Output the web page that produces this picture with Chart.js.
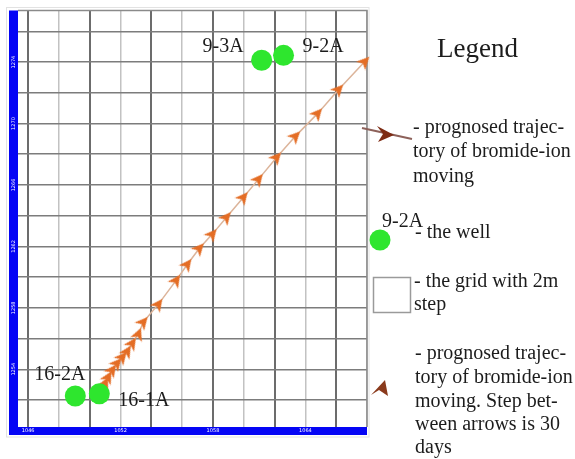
<!DOCTYPE html>
<html>
<head>
<meta charset="utf-8">
<script src="https://cdn.jsdelivr.net/npm/chart.js@4.4.1/dist/chart.umd.min.js"></script>
<style>
  html, body { margin: 0; padding: 0; background: #ffffff; }
  #wrap { position: relative; width: 575px; height: 459px; }
  #c { position: absolute; left: 0; top: 0; }
  #legend { position: absolute; left: 0; top: 0; pointer-events: none; }
  #legend text { font-family: "Liberation Serif", "Times New Roman", serif; fill: #1c1c1c; }
</style>
</head>
<body>
<div id="wrap">
  <canvas id="c" width="575" height="459"></canvas>
  <svg id="legend" width="575" height="459" xmlns="http://www.w3.org/2000/svg">
    <text x="437" y="57" font-size="27">Legend</text>

    <line x1="362" y1="128" x2="412" y2="139" stroke="#8d615a" stroke-width="2"/>
    <polygon points="394,135 377,126 383,134 378,142" fill="#7e2c14"/>
    <text x="413" y="133" font-size="20">- prognosed trajec-</text>
    <text x="413" y="157" font-size="20">tory of bromide-ion</text>
    <text x="413" y="182" font-size="20">moving</text>

    <text x="382" y="227" font-size="20">9-2A</text>
    <circle cx="380" cy="240" r="10.5" fill="#2ee62e"/>
    <text x="415" y="238" font-size="20">- the well</text>

    <rect x="373.5" y="277.5" width="37" height="35" fill="#ffffff" stroke="#9a9a9a" stroke-width="1.5"/>
    <text x="414" y="287" font-size="20">- the grid with 2m</text>
    <text x="414" y="310" font-size="20">step</text>

    <polygon points="385,380 371,395 379,390 388,396" fill="#8a3a1c"/>
    <text x="415" y="359" font-size="20">- prognosed trajec-</text>
    <text x="415" y="383" font-size="20">tory of bromide-ion</text>
    <text x="415" y="407" font-size="20">moving. Step bet-</text>
    <text x="415" y="430" font-size="20">ween arrows is 30</text>
    <text x="415" y="453" font-size="20">days</text>
  </svg>
</div>
<script>
// ---- data (grid units, 1 unit = one 2 m grid cell) ----
const wellNames = ['16-2A', '16-1A', '9-3A', '9-2A'];
const wellX = [1.53, 2.31, 7.58, 8.29];
const wellY = [0.13, 0.20, 11.06, 11.22];

// prognosed trajectory of bromide-ion, one arrow every 30 days
const trajX = [2.50, 2.60, 2.73, 2.89, 3.06, 3.22, 3.38, 3.58, 3.74, 4.23, 4.81, 5.17, 5.56, 5.98, 6.44, 6.99, 7.48, 8.07, 8.68, 9.40, 10.08, 10.93];
const trajY = [0.55, 0.75, 0.98, 1.20, 1.40, 1.59, 1.85, 2.15, 2.54, 3.12, 3.90, 4.42, 4.94, 5.40, 5.95, 6.60, 7.19, 7.90, 8.59, 9.33, 10.11, 11.02];

// axis tick labels (tiny, barely legible in the source)
const xTickValues = [0, 3, 6, 9];
const xTickLabels = ['1046', '1052', '1058', '1064'];
const yTickValues = [11, 9, 7, 5, 3, 1];
const yTickLabels = ['1274', '1270', '1266', '1262', '1258', '1254'];

// ---- styling / layout (not data) ----
const wellLabelLayout = [
  { align: 'left',  dx: -41, dy: -16 },
  { align: 'left',  dx: 19,  dy: 12 },
  { align: 'right', dx: -18, dy: -8 },
  { align: 'left',  dx: 19,  dy: -3 }
];
const AXIS_BLUE = '#0505f5';

function makeArrow(color) {
  const c = document.createElement('canvas');
  c.width = 13; c.height = 13;
  const g = c.getContext('2d');
  g.fillStyle = color;
  g.beginPath();
  g.moveTo(6.5, 0);
  g.lineTo(12.8, 12.8);
  g.lineTo(6.5, 9.2);
  g.lineTo(0.2, 12.8);
  g.closePath();
  g.fill();
  return c;
}
const arrowImg = makeArrow('#e46d25');

// arrow direction follows the path (clockwise degrees from "up")
const trajRot = trajX.map((x, i) => {
  const j = i < trajX.length - 1 ? i + 1 : i;
  const k = i < trajX.length - 1 ? i : i - 1;
  const dx = trajX[j] - trajX[k];
  const dy = trajY[j] - trajY[k];
  return Math.atan2(dx, dy) * 180 / Math.PI;
});

const decor = {
  id: 'decor',
  beforeDraw(chart) {
    const { ctx, chartArea: a } = chart;
    const xs = chart.scales.x, ys = chart.scales.y;
    ctx.save();
    ctx.fillStyle = '#ffffff';
    ctx.fillRect(0, 0, chart.width, chart.height);
    ctx.strokeStyle = '#e2e2e2';
    ctx.lineWidth = 1;
    ctx.strokeRect(6.5, 7.5, a.right - 6.5 + 2, xs.bottom - 7.5 + 2);
    ctx.fillStyle = AXIS_BLUE;
    ctx.fillRect(ys.left, a.top, ys.width, xs.bottom - a.top);
    ctx.fillRect(ys.left, xs.top, a.right - ys.left, xs.height);
    ctx.restore();
  },
  beforeDatasetsDraw(chart) {
    const { ctx, chartArea: a } = chart;
    ctx.save();
    ctx.strokeStyle = '#8a8a8a';
    ctx.lineWidth = 1.5;
    ctx.beginPath();
    ctx.moveTo(a.left, a.top);
    ctx.lineTo(a.right, a.top);
    ctx.lineTo(a.right, a.bottom);
    ctx.stroke();
    ctx.restore();
  },
  afterDraw(chart) {
    const { ctx } = chart;
    const ys = chart.scales.y;
    ctx.save();
    ctx.fillStyle = '#ffffff';
    ctx.font = '5px "DejaVu Sans", sans-serif';
    ctx.textAlign = 'center';
    ctx.textBaseline = 'middle';
    yTickValues.forEach((v, i) => {
      const y = ys.getPixelForValue(v);
      ctx.save();
      ctx.translate(ys.left + ys.width / 2, y);
      ctx.rotate(-Math.PI / 2);
      ctx.fillText(yTickLabels[i], 0, 0);
      ctx.restore();
    });
    const meta = chart.getDatasetMeta(1);
    ctx.fillStyle = '#1c1c1c';
    ctx.font = '20px "Liberation Serif", "Times New Roman", serif';
    ctx.textBaseline = 'alphabetic';
    meta.data.forEach((pt, i) => {
      const L = wellLabelLayout[i];
      ctx.textAlign = L.align;
      ctx.fillText(wellNames[i], pt.x + L.dx, pt.y + L.dy);
    });
    ctx.restore();
  }
};

new Chart(document.getElementById('c'), {
  type: 'scatter',
  data: {
    datasets: [
      {
        label: 'trajectory',
        data: trajX.map((x, i) => ({ x, y: trajY[i] })),
        showLine: true,
        borderColor: '#dcb49a',
        borderWidth: 1.5,
        pointStyle: arrowImg,
        pointRadius: 5,
        pointRotation: trajRot,
        clip: false,
        order: 1
      },
      {
        label: 'wells',
        data: wellX.map((x, i) => ({ x, y: wellY[i] })),
        backgroundColor: '#2ee62e',
        borderWidth: 0,
        pointRadius: 10.5,
        pointHoverRadius: 10.5,
        clip: false,
        order: 0
      }
    ]
  },
  options: {
    responsive: false,
    devicePixelRatio: 1,
    animation: false,
    events: [],
    layout: { padding: { left: 9, right: 208, top: 10, bottom: 24 } },
    plugins: { legend: { display: false }, tooltip: { enabled: false } },
    scales: {
      x: {
        type: 'linear',
        position: 'bottom',
        min: -0.33,
        max: 11,
        border: { display: false },
        grid: {
          drawTicks: false,
          color: (c) => (Math.round(c.tick.value) % 2 === 0 ? '#6c6c6c' : '#c2c2c2'),
          lineWidth: (c) => (Math.round(c.tick.value) % 2 === 0 ? 2 : 1.5)
        },
        ticks: {
          stepSize: 1,
          includeBounds: false,
          autoSkip: false,
          maxRotation: 0,
          minRotation: 0,
          padding: 1,
          color: '#ffffff',
          font: { size: 5, family: 'DejaVu Sans' },
          callback: (v) => {
            const i = xTickValues.indexOf(v);
            return i >= 0 ? xTickLabels[i] : '';
          }
        },
        afterFit: (s) => { s.height = 8; }
      },
      y: {
        type: 'linear',
        position: 'left',
        min: -0.88,
        max: 12.68,
        border: { display: false },
        grid: { drawTicks: false, color: '#7c7c7c', lineWidth: 1.5 },
        ticks: { stepSize: 1, includeBounds: false, display: false },
        afterFit: (s) => { s.width = 9; }
      }
    }
  },
  plugins: [decor]
});
</script>
</body>
</html>
